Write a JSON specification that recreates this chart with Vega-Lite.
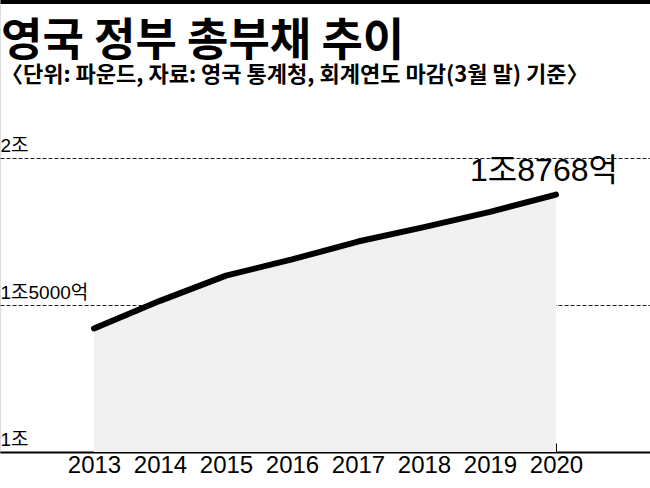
{
  "$schema": "https://vega.github.io/schema/vega-lite/v6.json",
  "description": "영국 정부 총부채 추이",
  "autosize": "none",
  "padding": {"top": 0, "left": 0, "right": 0, "bottom": 36},
  "width": 650,
  "height": 452,
  "background": "white",
  "title": {
    "text": "영국 정부 총부채 추이",
    "subtitle": "〈단위: 파운드, 자료: 영국 통계청, 회계연도 마감(3월 말) 기준〉",
    "anchor": "start",
    "frame": "group",
    "orient": "top",
    "offset": -86,
    "dx": 1,
    "font": "Noto Sans CJK KR",
    "fontSize": 45,
    "fontWeight": "bold",
    "color": "#000000",
    "subtitleFont": "Noto Sans CJK KR",
    "subtitleFontSize": 22,
    "subtitleFontWeight": "bold",
    "subtitleColor": "#000000",
    "subtitlePadding": 0
  },
  "data": {
    "values": [
      {"year": 2013, "debt": 14210, "label": ""},
      {"year": 2014, "debt": 15150, "label": ""},
      {"year": 2015, "debt": 16010, "label": ""},
      {"year": 2016, "debt": 16560, "label": ""},
      {"year": 2017, "debt": 17170, "label": ""},
      {"year": 2018, "debt": 17660, "label": ""},
      {"year": 2019, "debt": 18180, "label": ""},
      {"year": 2020, "debt": 18768, "label": "1조8768억"}
    ]
  },
  "encoding": {
    "x": {
      "field": "year",
      "type": "quantitative",
      "scale": {"domain": [2011.576, 2021.424], "nice": false, "zero": false}
    },
    "y": {
      "field": "debt",
      "type": "quantitative",
      "scale": {"domain": [10000, 25400], "nice": false, "zero": false}
    }
  },
  "layer": [
    {
      "mark": {"type": "area", "color": "#f1f1f1"},
      "encoding": {
        "y2": {"datum": 10000},
        "x": {
          "field": "year",
          "type": "quantitative",
          "axis": {
            "title": null,
            "values": [2013, 2014, 2015, 2016, 2017, 2018, 2019, 2020],
            "format": "d",
            "grid": false,
            "domain": true,
            "domainColor": "#000000",
            "domainWidth": 2,
            "ticks": true,
            "tickSize": -9,
            "tickColor": "#000000",
            "tickWidth": 1,
            "labelPadding": 10,
            "labelFont": "Liberation Sans",
            "labelFontSize": 24,
            "labelColor": "#000000",
            "labelFlush": false,
            "labelOverlap": false,
            "labelBaseline": "top"
          }
        },
        "y": {
          "field": "debt",
          "type": "quantitative",
          "axis": {
            "title": null,
            "values": [10000, 15000, 20000],
            "labelExpr": "datum.value == 10000 ? '1조' : datum.value == 15000 ? '1조5000억' : '2조'",
            "domain": false,
            "ticks": false,
            "tickSize": 0,
            "grid": true,
            "gridColor": "#222222",
            "gridWidth": 1,
            "gridDash": [4, 2],
            "labelAlign": "left",
            "labelBaseline": "alphabetic",
            "labelPadding": 0,
            "labelOffset": -7,
            "labelFont": "Liberation Sans, Noto Sans CJK KR",
            "labelFontSize": 19,
            "labelColor": "#000000",
            "labelFlush": false,
            "labelOverlap": false
          }
        }
      }
    },
    {
      "mark": {
        "type": "line",
        "color": "#000000",
        "strokeWidth": 6,
        "strokeCap": "round",
        "strokeJoin": "round"
      },
      "encoding": {
        "x": {
          "field": "year",
          "type": "quantitative",
          "axis": {
            "orient": "top",
            "title": null,
            "labels": false,
            "ticks": false,
            "grid": false,
            "domain": true,
            "domainColor": "#000000",
            "domainWidth": 7
          }
        }
      }
    },
    {
      "mark": {
        "type": "text",
        "align": "center",
        "baseline": "alphabetic",
        "dx": -12,
        "dy": -14,
        "font": "Liberation Sans, Noto Sans CJK KR",
        "fontSize": 32,
        "color": "#000000"
      },
      "encoding": {
        "x": {"field": "year", "type": "quantitative", "axis": null},
        "text": {"field": "label"}
      }
    }
  ],
  "resolve": {"axis": {"x": "independent"}}
}
